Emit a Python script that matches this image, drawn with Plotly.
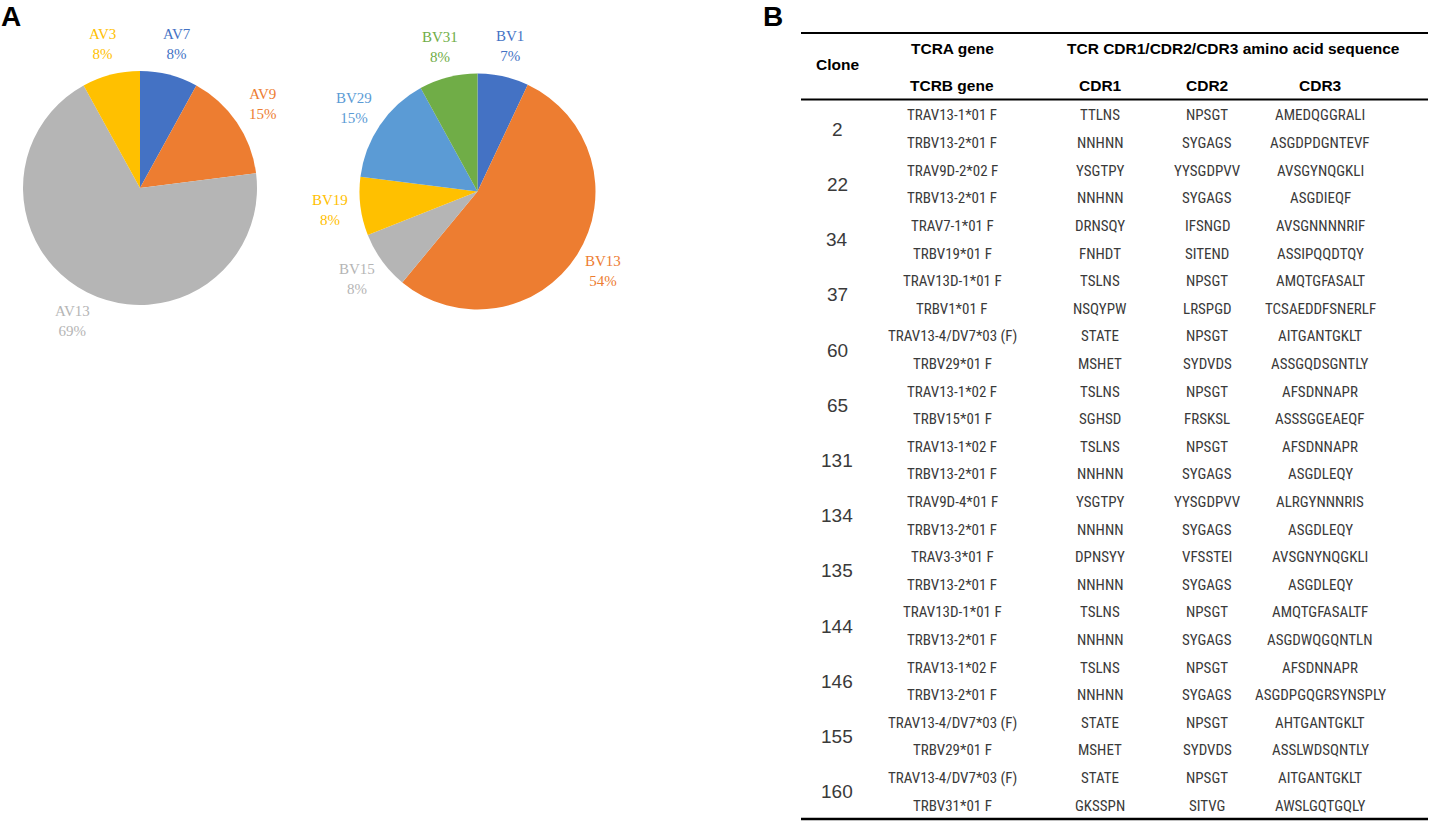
import math
import plotly.graph_objects as go

W, H = 1431, 821

# ---------------- Panel A data ----------------
av_labels = ["AV7", "AV9", "AV13", "AV3"]
av_values = [8, 15, 69, 8]
av_colors = ["#4472C4", "#ED7D31", "#B5B5B5", "#FFC000"]

bv_labels = ["BV1", "BV13", "BV15", "BV19", "BV29", "BV31"]
bv_values = [7, 54, 8, 8, 15, 8]
bv_colors = ["#4472C4", "#ED7D31", "#B5B5B5", "#FFC000", "#5B9BD5", "#70AD47"]

# ---------------- Panel B data ----------------
clones = ["2", "22", "34", "37", "60", "65", "131", "134", "135", "144", "146", "155", "160"]
tra_gene = ["TRAV13-1*01 F", "TRAV9D-2*02 F", "TRAV7-1*01 F", "TRAV13D-1*01 F",
            "TRAV13-4/DV7*03 (F)", "TRAV13-1*02 F", "TRAV13-1*02 F", "TRAV9D-4*01 F",
            "TRAV3-3*01 F", "TRAV13D-1*01 F", "TRAV13-1*02 F", "TRAV13-4/DV7*03 (F)",
            "TRAV13-4/DV7*03 (F)"]
trb_gene = ["TRBV13-2*01 F", "TRBV13-2*01 F", "TRBV19*01 F", "TRBV1*01 F",
            "TRBV29*01 F", "TRBV15*01 F", "TRBV13-2*01 F", "TRBV13-2*01 F",
            "TRBV13-2*01 F", "TRBV13-2*01 F", "TRBV13-2*01 F", "TRBV29*01 F",
            "TRBV31*01 F"]
cdr1_a = ["TTLNS", "YSGTPY", "DRNSQY", "TSLNS", "STATE", "TSLNS", "TSLNS", "YSGTPY",
          "DPNSYY", "TSLNS", "TSLNS", "STATE", "STATE"]
cdr1_b = ["NNHNN", "NNHNN", "FNHDT", "NSQYPW", "MSHET", "SGHSD", "NNHNN", "NNHNN",
          "NNHNN", "NNHNN", "NNHNN", "MSHET", "GKSSPN"]
cdr2_a = ["NPSGT", "YYSGDPVV", "IFSNGD", "NPSGT", "NPSGT", "NPSGT", "NPSGT", "YYSGDPVV",
          "VFSSTEI", "NPSGT", "NPSGT", "NPSGT", "NPSGT"]
cdr2_b = ["SYGAGS", "SYGAGS", "SITEND", "LRSPGD", "SYDVDS", "FRSKSL", "SYGAGS", "SYGAGS",
          "SYGAGS", "SYGAGS", "SYGAGS", "SYDVDS", "SITVG"]
cdr3_a = ["AMEDQGGRALI", "AVSGYNQGKLI", "AVSGNNNNRIF", "AMQTGFASALT", "AITGANTGKLT",
          "AFSDNNAPR", "AFSDNNAPR", "ALRGYNNNRIS", "AVSGNYNQGKLI", "AMQTGFASALTF",
          "AFSDNNAPR", "AHTGANTGKLT", "AITGANTGKLT"]
cdr3_b = ["ASGDPDGNTEVF", "ASGDIEQF", "ASSIPQQDTQY", "TCSAEDDFSNERLF", "ASSGQDSGNTLY",
          "ASSSGGEAEQF", "ASGDLEQY", "ASGDLEQY", "ASGDLEQY", "ASGDWQGQNTLN",
          "ASGDPGQGRSYNSPLY", "ASSLWDSQNTLY", "AWSLGQTGQLY"]

header_top = ["TCRA gene", "TCR CDR1/CDR2/CDR3 amino acid sequence"]
header_bottom = ["TCRB gene", "CDR1", "CDR2", "CDR3"]


def px(x):
    return x / W


def py(y):
    return 1 - y / H


fig = go.Figure()
annotations = []
shapes = []

SERIF = "Liberation Serif, DejaVu Serif, serif"


def add_pie(labels, values, colors, cx, cy, r, name):
    fig.add_trace(go.Pie(
        labels=labels, values=values, name=name,
        marker=dict(colors=colors, line=dict(width=0)),
        sort=False, direction="clockwise", rotation=0,
        textinfo="none", hoverinfo="label+percent", showlegend=False,
        domain=dict(x=[px(cx - r), px(cx + r)], y=[py(cy + r), py(cy - r)]),
    ))
    total = sum(values)
    cum = 0
    d = 149
    for lab, v, c in zip(labels, values, colors):
        mid = (cum + v / 2) / total
        cum += v
        th = 2 * math.pi * mid
        lx = cx + d * math.sin(th)
        ly = cy - d * math.cos(th)
        annotations.append(dict(
            x=px(lx), y=py(ly), xref="paper", yref="paper",
            text=f"{lab}<br>{v}%", showarrow=False,
            xanchor="center", yanchor="middle", align="center",
            font=dict(family=SERIF, size=15, color=c),
        ))


add_pie(av_labels, av_values, av_colors, 140, 188, 117, "TCRA")
add_pie(bv_labels, bv_values, bv_colors, 477.5, 191.5, 118, "TCRB")

# Panel letters
LETTER_FONT = dict(family="Liberation Sans, Arial, sans-serif", size=28, color="black")
annotations.append(dict(x=px(0), y=py(0), xref="paper", yref="paper", text="<b>A</b>",
                        showarrow=False, xanchor="left", yanchor="top", borderpad=0,
                        font=LETTER_FONT))
annotations.append(dict(x=px(762), y=py(0), xref="paper", yref="paper", text="<b>B</b>",
                        showarrow=False, xanchor="left", yanchor="top", borderpad=0,
                        font=LETTER_FONT))

# ---------------- Table ----------------
x_left, x_right = 801, 1428
col_x = [837, 952, 1100, 1207, 1320]
seq_header_x = 1233
HDR_FONT = dict(family="Liberation Sans, Arial, sans-serif", size=15.5, color="black")
CELL_FONT = dict(family="Liberation Sans Narrow, Arial Narrow, Roboto Condensed, Liberation Sans, sans-serif",
                 size=15, color="#3a3a3a")
CLONE_FONT = dict(family="Liberation Sans Narrow, Arial Narrow, Liberation Sans, sans-serif",
                  size=19, color="#3a3a3a")


def txt(x, y, s, font):
    annotations.append(dict(x=px(x), y=py(y), xref="paper", yref="paper", text=s,
                            showarrow=False, xanchor="center", yanchor="middle", font=font))


def hline(y, w):
    shapes.append(dict(type="line", xref="paper", yref="paper",
                       x0=px(x_left), x1=px(x_right), y0=py(y), y1=py(y),
                       line=dict(color="black", width=w)))


hline(33, 2)
hline(99.5, 2)
hline(819, 2.5)

# headers
txt(col_x[0], 65, "<b>Clone</b>", HDR_FONT)
txt(col_x[1], 48, f"<b>{header_top[0]}</b>", HDR_FONT)
txt(seq_header_x, 48, f"<b>{header_top[1]}</b>", HDR_FONT)
for i, h in enumerate(header_bottom):
    txt(col_x[i + 1], 85, f"<b>{h}</b>", HDR_FONT)

row0 = 115.5
pitch = 27.6
for i, c in enumerate(clones):
    ya = row0 + 2 * i * pitch
    yb = ya + pitch
    txt(col_x[0], (ya + yb) / 2, c, CLONE_FONT)
    for j, (sa, sb) in enumerate([(tra_gene[i], trb_gene[i]), (cdr1_a[i], cdr1_b[i]),
                                  (cdr2_a[i], cdr2_b[i]), (cdr3_a[i], cdr3_b[i])]):
        txt(col_x[j + 1], ya, sa, CELL_FONT)
        txt(col_x[j + 1], yb, sb, CELL_FONT)

fig.update_layout(
    width=W, height=H, margin=dict(l=0, r=0, t=0, b=0),
    paper_bgcolor="white", plot_bgcolor="white",
    annotations=annotations, shapes=shapes,
)

fig.write_html("out.html", config={"displayModeBar": False},
               post_script="document.body.style.margin='0';document.body.style.overflow='hidden';")
